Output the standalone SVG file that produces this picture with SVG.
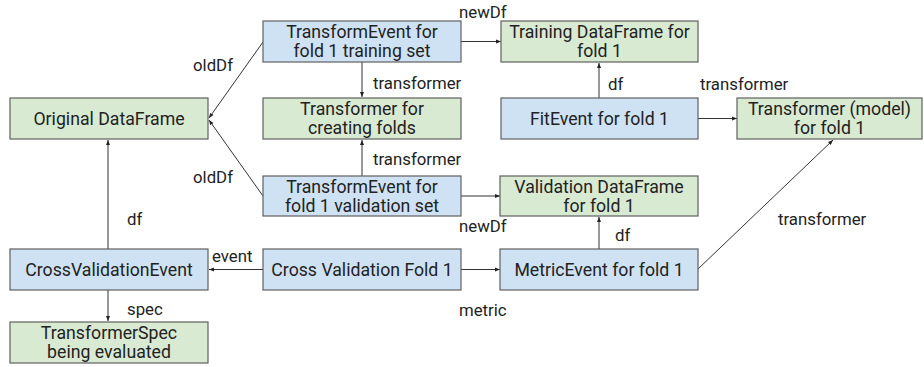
<svg xmlns="http://www.w3.org/2000/svg" width="924" height="367" viewBox="0 0 924 367">
  <defs>
    <marker id="arr" viewBox="0 0 10 10" refX="10" refY="5" markerWidth="5" markerHeight="5" orient="auto" markerUnits="userSpaceOnUse">
      <path d="M0,1 L10,5 L0,9 Z" fill="#222"/>
    </marker>
    <style>
      .box { stroke: #5f5f5f; stroke-width: 1.2; }
      .ev { fill: #cfe2f3; }
      .df { fill: #d9ead3; }
      text { font-family: Roboto, "Liberation Sans", sans-serif; font-size: 16.8px; fill: #222; }
      .c { text-anchor: middle; font-size: 17.7px; }
      .edge { stroke: #333; stroke-width: 1; fill: none; marker-end: url(#arr); }
    </style>
  </defs>
  <rect width="924" height="367" fill="#fff"/>

  <g id="connectors">
    <line class="edge" x1="263" y1="42" x2="209" y2="118"/>
    <line class="edge" x1="263" y1="196" x2="209" y2="120"/>
    <line class="edge" x1="108" y1="249" x2="108" y2="140"/>
    <line class="edge" x1="108" y1="290" x2="108" y2="321"/>
    <line class="edge" x1="263" y1="269.5" x2="209" y2="269.5"/>
    <line class="edge" x1="461" y1="269.5" x2="500" y2="269.5"/>
    <line class="edge" x1="461" y1="41.5" x2="501" y2="41.5"/>
    <line class="edge" x1="362" y1="62" x2="362" y2="97"/>
    <line class="edge" x1="362" y1="176" x2="362" y2="140"/>
    <line class="edge" x1="461" y1="196" x2="500" y2="196"/>
    <line class="edge" x1="599" y1="98" x2="599" y2="63"/>
    <line class="edge" x1="698" y1="118.5" x2="737" y2="118.5"/>
    <line class="edge" x1="599" y1="249" x2="599" y2="217"/>
    <line class="edge" x1="698" y1="269" x2="833" y2="140"/>
    <text x="193" y="71">oldDf</text>
    <text x="193" y="183">oldDf</text>
    <text x="459" y="18">newDf</text>
    <text x="373" y="89">transformer</text>
    <text x="373" y="165">transformer</text>
    <text x="608" y="90">df</text>
    <text x="700" y="90">transformer</text>
    <text x="459" y="232">newDf</text>
    <text x="615" y="241">df</text>
    <text x="778" y="225">transformer</text>
    <text x="459" y="316">metric</text>
    <text x="127" y="225">df</text>
    <text x="212" y="262">event</text>
    <text x="127" y="315">spec</text>
  </g>

  <g id="original-dataframe">
    <rect class="box df" x="10" y="98" width="198" height="41"/>
    <text class="c" x="109" y="125">Original DataFrame</text>
  </g>
  <g id="transform-event-training">
    <rect class="box ev" x="263" y="21" width="198" height="41"/>
    <text class="c" x="362" y="37.5">TransformEvent for</text>
    <text class="c" x="362" y="57">fold 1 training set</text>
  </g>
  <g id="transformer-folds">
    <rect class="box df" x="263" y="98" width="198" height="41"/>
    <text class="c" x="362" y="114.5">Transformer for</text>
    <text class="c" x="362" y="134">creating folds</text>
  </g>
  <g id="transform-event-validation">
    <rect class="box ev" x="263" y="176" width="198" height="40"/>
    <text class="c" x="362" y="192.5">TransformEvent for</text>
    <text class="c" x="362" y="212">fold 1 validation set</text>
  </g>
  <g id="cross-validation-fold">
    <rect class="box ev" x="263" y="249" width="198" height="41"/>
    <text class="c" x="362" y="276">Cross Validation Fold 1</text>
  </g>
  <g id="training-dataframe">
    <rect class="box df" x="501" y="21" width="197" height="41"/>
    <text class="c" x="599.5" y="37.5">Training DataFrame for</text>
    <text class="c" x="599.5" y="57">fold 1</text>
  </g>
  <g id="fit-event">
    <rect class="box ev" x="501" y="98" width="197" height="41"/>
    <text class="c" x="599.5" y="125">FitEvent for fold 1</text>
  </g>
  <g id="transformer-model">
    <rect class="box df" x="737" y="98" width="185" height="41"/>
    <text class="c" x="829.5" y="114.5">Transformer (model)</text>
    <text class="c" x="829.5" y="134">for fold 1</text>
  </g>
  <g id="validation-dataframe">
    <rect class="box df" x="500" y="176" width="198" height="40"/>
    <text class="c" x="599" y="192.5">Validation DataFrame</text>
    <text class="c" x="599" y="212">for fold 1</text>
  </g>
  <g id="metric-event">
    <rect class="box ev" x="500" y="249" width="198" height="41"/>
    <text class="c" x="599" y="276">MetricEvent for fold 1</text>
  </g>
  <g id="cross-validation-event">
    <rect class="box ev" x="10" y="249" width="198" height="41"/>
    <text class="c" x="109" y="276">CrossValidationEvent</text>
  </g>
  <g id="transformer-spec">
    <rect class="box df" x="10" y="322" width="198" height="41"/>
    <text class="c" x="109" y="338.5">TransformerSpec</text>
    <text class="c" x="109" y="358">being evaluated</text>
  </g>
</svg>
